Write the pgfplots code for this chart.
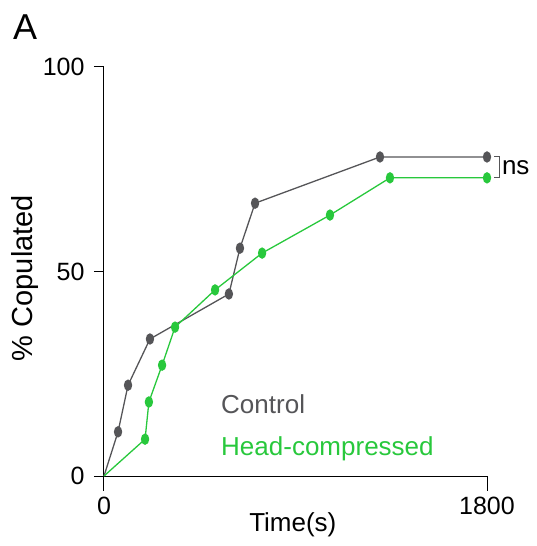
\documentclass[border=0pt]{standalone}
\usepackage{pgfplots}
\pgfplotsset{compat=1.18}
\usepackage{fontspec}
\setmainfont{Liberation Sans}
\definecolor{ctrl}{RGB}{85,85,88}
\definecolor{hc}{RGB}{40,200,60}
\begin{document}
\begin{tikzpicture}
\begin{axis}[
  name=ax,
  width=383pt, height=409pt, scale only axis,
  xmin=0, xmax=1800, ymin=0, ymax=100,
  axis x line=bottom, axis y line=left,
  axis line style={-, black, line width=1pt},
  xtick={0,1800}, ytick={0,50,100},
  tick align=outside, major tick length=10pt,
  tick style={black, line width=1pt},
  x tick style={draw=none},
  /pgf/number format/assume math mode=true,
  /pgf/number format/1000 sep={},
  ticklabel style={font=\fontsize{25}{27}\selectfont},
  xticklabel style={yshift=-7.5pt},
  yticklabel style={xshift=-6pt},
  xlabel={Time(s)}, ylabel={\% Copulated},
  xlabel style={font=\fontsize{26}{28}\selectfont, at={(axis description cs:0.493,-0.12)}, anchor=center},
  ylabel style={font=\fontsize{29}{31}\selectfont, at={(axis description cs:-0.206,0.484)}, anchor=center},
  clip=false,
]
\addplot[ctrl, line width=1.3pt, mark=*, mark indices={2,3,4,5,6,7,8,9},
  mark options={xscale=0.7, solid, fill=ctrl, draw=ctrl}, mark size=5pt]
  coordinates {(0,0) (66,10.8) (113,22.2) (216,33.5) (587,44.5) (639,55.7) (710,66.7) (1297,78) (1800,78)};
\addplot[hc, line width=1.3pt, mark=*, mark indices={2,3,4,5,6,7,8,9,10},
  mark options={xscale=0.7, solid, fill=hc, draw=hc}, mark size=5pt]
  coordinates {(0,0) (193,9.0) (211,18.1) (273,27.1) (334,36.4) (522,45.5) (743,54.5) (1062,63.8) (1344,72.9) (1800,72.9)};
\draw[black, line width=1pt] (axis cs:0,0) -- ++(0pt,-15pt);
\draw[black, line width=1pt] (axis cs:1800,0) -- ++(0pt,-15pt);
\node[anchor=base west, inner sep=0pt, text=ctrl, font=\fontsize{26}{28}\selectfont] at (axis cs:550,15.4) {Control};
\node[anchor=base west, inner sep=0pt, text=hc, font=\fontsize{26}{28}\selectfont] at (axis cs:550,4.9) {Head-compressed};
\draw[ctrl, line width=1pt] (axis cs:1833,78) -- (axis cs:1861,78) -- (axis cs:1861,72.9) -- (axis cs:1833,72.9);
\node[anchor=west, font=\fontsize{26}{28}\selectfont, inner sep=1pt] at (axis cs:1865,75.5) {ns};
\end{axis}
\pgfresetboundingbox
\path[use as bounding box] ([shift={(-104pt,-70pt)}]ax.south west) rectangle ([shift={(432pt,476pt)}]ax.south west);
\node[anchor=north west, inner sep=0pt, font=\fontsize{36}{38}\selectfont] at ([shift={(-91pt,461pt)}]ax.south west) {A};
\end{tikzpicture}
\end{document}
